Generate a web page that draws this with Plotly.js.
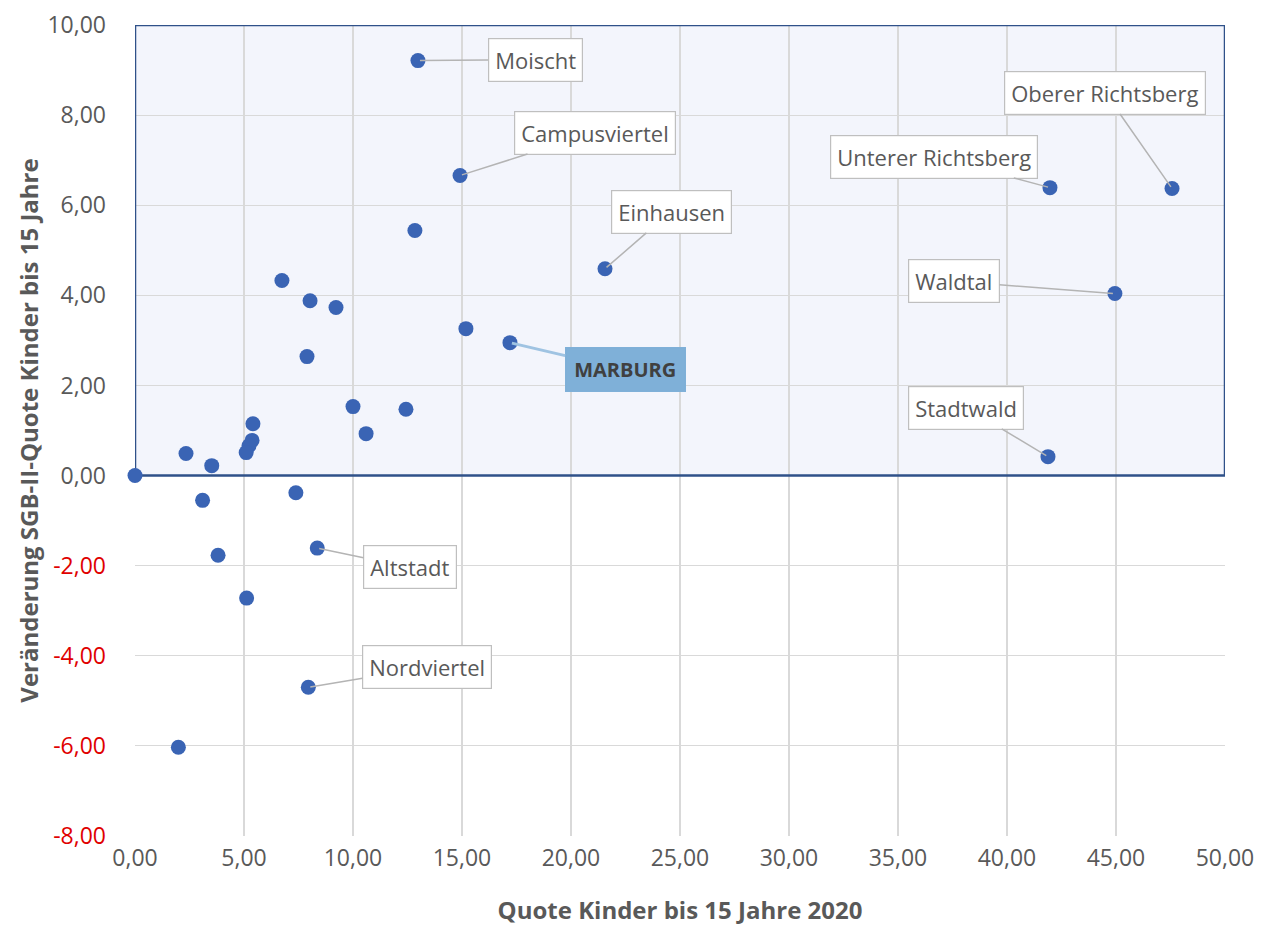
<!DOCTYPE html>
<html>
<head>
<meta charset="utf-8">
<script src="https://cdn.plot.ly/plotly-3.0.1.min.js"></script>
<style>html,body{margin:0;padding:0;background:#fff;}#chart{width:1265px;height:929px;}</style>
</head>
<body>
<div id="chart"></div>
<script>
// Stadtteile: Quote Kinder bis 15 Jahre 2020 (x) vs. Veränderung SGB-II-Quote Kinder bis 15 Jahre (y)
const ptName = ["Moischt","Campusviertel","","Einhausen","Unterer Richtsberg","Oberer Richtsberg","Waldtal","Stadtwald","MARBURG",
  "","","","","","","","","","","","","","","","","Altstadt","","","","Nordviertel",""];
const ptX = [12.98,14.91,12.84,21.56,41.97,47.57,44.95,41.88,17.2,
  15.18,6.74,8.03,9.22,7.89,10.0,12.43,10.6,5.41,5.37,5.23,5.10,2.34,3.52,0.0,3.10,8.36,7.38,3.81,5.12,7.95,1.99];
const ptY = [9.21,6.66,5.44,4.59,6.39,6.37,4.04,0.42,2.95,
  3.26,4.33,3.88,3.73,2.64,1.53,1.47,0.93,1.15,0.78,0.66,0.51,0.49,0.22,0.0,-0.55,-1.61,-0.38,-1.77,-2.72,-4.70,-6.03];

const yTickVals = [-8,-6,-4,-2,0,2,4,6,8,10];
const yTickText = ["-8,00","-6,00","-4,00","-2,00","0,00","2,00","4,00","6,00","8,00","10,00"];
const xTickVals = [0,5,10,15,20,25,30,35,40,45,50];
const xTickText = ["0,00","5,00","10,00","15,00","20,00","25,00","30,00","35,00","40,00","45,00","50,00"];

// callout box centres (layout positions in data units)
const calloutPos = {
  "Moischt":[18.35,9.23],
  "Campusviertel":[21.1,7.61],
  "Einhausen":[24.59,5.86],
  "Unterer Richtsberg":[36.65,7.08],
  "Oberer Richtsberg":[44.5,8.5],
  "Waldtal":[37.57,4.31],
  "Stadtwald":[38.12,1.51],
  "MARBURG":[22.48,2.35],
  "Altstadt":[12.61,-2.04],
  "Nordviertel":[13.39,-4.26]
};

const FONT = "'Open Sans', 'Noto Sans', sans-serif";
const GRAY = "#595959";

const annotations = [];
ptName.forEach((nm, i) => {
  if (!nm || !calloutPos[nm]) return;
  const isM = nm === "MARBURG";
  annotations.push({
    x: ptX[i], y: ptY[i], xref: "x", yref: "y",
    ax: calloutPos[nm][0], ay: calloutPos[nm][1], axref: "x", ayref: "y",
    text: isM ? "<b>MARBURG</b>" : nm,
    showarrow: true, arrowhead: 0, arrowwidth: isM ? 3 : 1.5,
    arrowcolor: isM ? "#9fc3e2" : "#b4b4b4",
    standoff: 2,
    font: {family: FONT, size: isM ? 20 : 22, color: isM ? "#404040" : GRAY},
    bgcolor: isM ? "#7fb0d8" : "#ffffff",
    bordercolor: isM ? "#7fb0d8" : "#bfbfbf", borderwidth: 1.2,
    borderpad: isM ? 8 : 6
  });
});

const data = [{
  type: "scatter", mode: "markers",
  x: ptX, y: ptY,
  cliponaxis: false,
  marker: {size: 15, color: "#3a64b4", line: {width: 0}},
  hoverinfo: "x+y"
}];

const layout = {
  width: 1265, height: 929,
  margin: {l: 135, r: 40, t: 25, b: 93},
  paper_bgcolor: "#ffffff", plot_bgcolor: "#ffffff",
  showlegend: false,
  font: {family: FONT, color: GRAY},
  xaxis: {
    range: [0, 50], tickvals: xTickVals, ticktext: xTickText,
    showgrid: true, gridcolor: "#d9d9d9", gridwidth: 1.2,
    zeroline: false, showline: false, ticks: "",
    tickfont: {family: FONT, size: 23, color: GRAY},
    ticklabelstandoff: 6,
    title: {text: "<b>Quote Kinder bis 15 Jahre 2020</b>", font: {family: FONT, size: 24, color: GRAY}, standoff: 30}
  },
  yaxis: {
    range: [-8, 10], tickvals: yTickVals,
    ticktext: yTickText.map(t => t.startsWith("-") ? '<span style="color:#e00000">' + t + '</span>' : t),
    showgrid: true, gridcolor: "#d9d9d9", gridwidth: 1.2,
    zeroline: false, showline: false, ticks: "",
    tickfont: {family: FONT, size: 23, color: GRAY},
    ticklabelstandoff: 28,
    title: {text: "<b>Veränderung SGB-II-Quote Kinder bis 15 Jahre</b>", font: {family: FONT, size: 24, color: GRAY}, standoff: 2}
  },
  shapes: [
    {type: "rect", xref: "x", yref: "y", x0: 0, x1: 50, y0: 0, y1: 10,
     fillcolor: "#f3f5fc", line: {width: 0}, layer: "below"},
    {type: "rect", xref: "x", yref: "y", x0: 0, x1: 50, y0: 0, y1: 10,
     fillcolor: "rgba(0,0,0,0)", line: {color: "#2f5189", width: 2.5}, layer: "between"}
  ],
  annotations: annotations
};

Plotly.newPlot("chart", data, layout, {displayModeBar: false, staticPlot: true});
</script>
</body>
</html>
